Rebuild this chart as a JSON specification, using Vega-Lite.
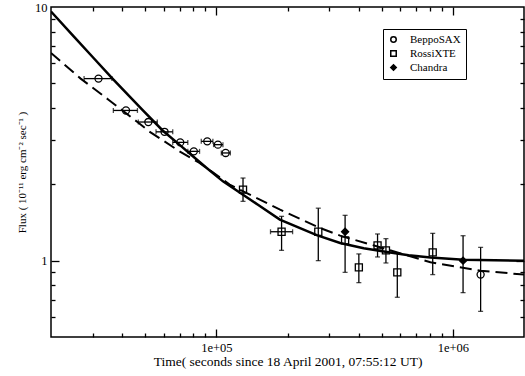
{
  "$schema": "https://vega.github.io/schema/vega-lite/v6.json",
  "width": 473,
  "height": 330,
  "autosize": "none",
  "padding": {"left": 51, "top": 7, "right": 1, "bottom": 39},
  "background": "white",
  "config": {
    "font": "Liberation Serif",
    "view": {"stroke": "black", "strokeWidth": 1.5},
    "axis": {
      "domain": false,
      "grid": false,
      "tickColor": "black",
      "tickWidth": 1.3,
      "labelColor": "black",
      "labelFont": "Liberation Serif",
      "labelFontSize": 12.5,
      "labelOverlap": false,
      "labelFlush": false,
      "labelBound": false,
      "titleColor": "black",
      "titleFont": "Liberation Serif",
      "titleFontSize": 12,
      "titleFontWeight": "normal"
    }
  },
  "datasets": {
    "solid": [
      {"t": 20000, "f": 9.6},
      {"t": 25000, "f": 7.64},
      {"t": 30000, "f": 6.35},
      {"t": 36400, "f": 5.22},
      {"t": 48600, "f": 3.94},
      {"t": 59300, "f": 3.26},
      {"t": 70000, "f": 2.86},
      {"t": 79600, "f": 2.58},
      {"t": 90000, "f": 2.34},
      {"t": 106700, "f": 2.054},
      {"t": 129700, "f": 1.82},
      {"t": 150000, "f": 1.66},
      {"t": 185700, "f": 1.451},
      {"t": 265800, "f": 1.26},
      {"t": 333800, "f": 1.174},
      {"t": 420000, "f": 1.12},
      {"t": 526700, "f": 1.082},
      {"t": 650000, "f": 1.05},
      {"t": 804400, "f": 1.03},
      {"t": 1110000, "f": 1.009},
      {"t": 1500000, "f": 1.004},
      {"t": 2000000, "f": 1.0}
    ],
    "dashed": [
      {"t": 20000, "f": 6.59},
      {"t": 26700, "f": 5.22},
      {"t": 35000, "f": 4.31},
      {"t": 46400, "f": 3.52},
      {"t": 52100, "f": 3.23},
      {"t": 69800, "f": 2.7},
      {"t": 84900, "f": 2.43},
      {"t": 100000, "f": 2.18},
      {"t": 113900, "f": 1.994},
      {"t": 125600, "f": 1.905},
      {"t": 186100, "f": 1.589},
      {"t": 274500, "f": 1.345},
      {"t": 333800, "f": 1.255},
      {"t": 476400, "f": 1.139},
      {"t": 650000, "f": 1.045},
      {"t": 804400, "f": 0.985},
      {"t": 1311000, "f": 0.913},
      {"t": 2000000, "f": 0.881}
    ],
    "pts": [
      {"inst": "BeppoSAX", "t": 31760, "f": 5.22, "tlo": 27600, "thi": 36200},
      {"inst": "BeppoSAX", "t": 41500, "f": 3.91, "tlo": 36700, "thi": 46400},
      {"inst": "BeppoSAX", "t": 51600, "f": 3.52, "tlo": 46800, "thi": 56300},
      {"inst": "BeppoSAX", "t": 60400, "f": 3.22, "tlo": 55600, "thi": 65430},
      {"inst": "BeppoSAX", "t": 70370, "f": 2.926, "tlo": 65430, "thi": 75770},
      {"inst": "BeppoSAX", "t": 80330, "f": 2.697, "tlo": 75770, "thi": 84950},
      {"inst": "BeppoSAX", "t": 91580, "f": 2.953, "tlo": 86380, "thi": 96730},
      {"inst": "BeppoSAX", "t": 101580, "f": 2.866, "tlo": 97390, "thi": 106660},
      {"inst": "BeppoSAX", "t": 109520, "f": 2.658, "tlo": 105000, "thi": 114660},
      {"inst": "BeppoSAX", "t": 1311000, "f": 0.881, "flo": 0.631, "fhi": 1.128},
      {"inst": "RossiXTE", "t": 129700, "f": 1.905, "flo": 1.713, "fhi": 2.117},
      {"inst": "RossiXTE", "t": 188800, "f": 1.3, "tlo": 169500, "thi": 210200, "flo": 1.098, "fhi": 1.495},
      {"inst": "RossiXTE", "t": 269900, "f": 1.3, "flo": 1.0, "fhi": 1.61},
      {"inst": "RossiXTE", "t": 350400, "f": 1.202, "flo": 0.899, "fhi": 1.509},
      {"inst": "RossiXTE", "t": 400600, "f": 0.941, "flo": 0.819, "fhi": 1.063},
      {"inst": "RossiXTE", "t": 480600, "f": 1.149, "flo": 1.034, "fhi": 1.274},
      {"inst": "RossiXTE", "t": 521500, "f": 1.098, "flo": 0.979, "fhi": 1.221},
      {"inst": "RossiXTE", "t": 582500, "f": 0.899, "flo": 0.717, "fhi": 1.072},
      {"inst": "RossiXTE", "t": 822300, "f": 1.078, "flo": 0.881, "fhi": 1.281},
      {"inst": "Chandra", "t": 350400, "f": 1.3},
      {"inst": "Chandra", "t": 1105000, "f": 1.0, "flo": 0.748, "fhi": 1.254}
    ]
  },
  "resolve": {"axis": {"x": "independent", "y": "independent"}},
  "layer": [
    {
      "data": {"name": "solid"},
      "mark": {"type": "line", "stroke": "black", "strokeWidth": 2.5, "clip": true},
      "encoding": {
        "x": {
          "field": "t", "type": "quantitative",
          "scale": {"type": "log", "domain": [20000, 2000000], "nice": false},
          "axis": {
            "orient": "bottom",
            "values": [100000, 1000000],
            "ticks": false,
            "labelExpr": "datum.value == 100000 ? '1e+05' : '1e+06'",
            "labelPadding": 4,
            "title": "Time( seconds since 18 April 2001, 07:55:12 UT)",
            "titleFontSize": 13.5,
            "titlePadding": 1
          }
        },
        "y": {
          "field": "f", "type": "quantitative",
          "scale": {"type": "log", "domain": [0.5, 10], "nice": false},
          "axis": {
            "orient": "left",
            "values": [1, 10],
            "ticks": false,
            "labelAlign": "right",
            "labelBaseline": "middle",
            "labelFlush": false,
            "labelExpr": "datum.value < 5 ? '1' : '10'",
            "labelPadding": 4,
            "title": "Flux ( 10⁻¹¹ erg cm⁻² sec⁻¹ )",
            "titleFontSize": 11,
            "titlePadding": 7
          }
        }
      }
    },
    {
      "data": {"name": "dashed"},
      "mark": {"type": "line", "stroke": "black", "strokeWidth": 2, "strokeDash": [12, 6], "clip": true},
      "encoding": {
        "x": {
          "field": "t", "type": "quantitative",
          "axis": {
            "orient": "top",
            "offset": -330,
            "values": [30000, 40000, 50000, 60000, 70000, 80000, 90000, 100000, 200000, 300000, 400000, 500000, 600000, 700000, 800000, 900000, 1000000],
            "tickSize": {"condition": {"test": "datum.value == 100000 || datum.value == 1000000", "value": 8}, "value": 4},
            "labels": false,
            "title": null
          }
        },
        "y": {
          "field": "f", "type": "quantitative",
          "axis": {
            "orient": "right",
            "offset": -473,
            "values": [0.6, 0.7, 0.8, 0.9, 1, 2, 3, 4, 5, 6, 7, 8, 9],
            "tickSize": {"condition": {"test": "datum.value == 1", "value": 8}, "value": 4},
            "labels": false,
            "title": null
          }
        }
      }
    },
    {
      "data": {"name": "pts"},
      "mark": {"type": "point", "strokeWidth": 1.3, "size": 50, "opacity": 1},
      "encoding": {
        "x": {
          "field": "t", "type": "quantitative",
          "axis": {
            "orient": "bottom",
            "offset": -330,
            "values": [30000, 40000, 50000, 60000, 70000, 80000, 90000, 100000, 200000, 300000, 400000, 500000, 600000, 700000, 800000, 900000, 1000000],
            "tickSize": {"condition": {"test": "datum.value == 100000 || datum.value == 1000000", "value": 8}, "value": 4},
            "labels": false,
            "title": null
          }
        },
        "y": {
          "field": "f", "type": "quantitative",
          "axis": {
            "orient": "left",
            "offset": -473,
            "values": [0.6, 0.7, 0.8, 0.9, 1, 2, 3, 4, 5, 6, 7, 8, 9],
            "tickSize": {"condition": {"test": "datum.value == 1", "value": 8}, "value": 4},
            "labels": false,
            "title": null
          }
        },
        "shape": {
          "field": "inst", "type": "nominal",
          "scale": {"domain": ["BeppoSAX", "RossiXTE", "Chandra"], "range": ["circle", "square", "diamond"]},
          "legend": {
            "title": null, "orient": "none", "legendX": 332, "legendY": 22,
            "strokeColor": "black", "fillColor": "white", "padding": 5,
            "labelFont": "Liberation Serif", "labelFontSize": 11, "labelColor": "black",
            "labelOffset": 11, "rowPadding": 1, "symbolSize": 30, "symbolStrokeWidth": 1.5
          }
        },
        "fill": {
          "field": "inst", "type": "nominal",
          "scale": {"domain": ["BeppoSAX", "RossiXTE", "Chandra"], "range": ["transparent", "transparent", "black"]},
          "legend": {
            "title": null, "orient": "none", "legendX": 332, "legendY": 22,
            "strokeColor": "black", "fillColor": "white", "padding": 5,
            "labelFont": "Liberation Serif", "labelFontSize": 11, "labelColor": "black",
            "labelOffset": 11, "rowPadding": 1, "symbolSize": 30, "symbolStrokeWidth": 1.5
          }
        },
        "stroke": {
          "field": "inst", "type": "nominal",
          "scale": {"domain": ["BeppoSAX", "RossiXTE", "Chandra"], "range": ["black", "black", "black"]},
          "legend": {
            "title": null, "orient": "none", "legendX": 332, "legendY": 22,
            "strokeColor": "black", "fillColor": "white", "padding": 5,
            "labelFont": "Liberation Serif", "labelFontSize": 11, "labelColor": "black",
            "labelOffset": 11, "rowPadding": 1, "symbolSize": 30, "symbolStrokeWidth": 1.5
          }
        }
      }
    },
    {
      "data": {"name": "pts"},
      "transform": [{"filter": "datum.flo != null"}],
      "mark": {"type": "rule", "stroke": "black", "strokeWidth": 1.3},
      "encoding": {
        "x": {"field": "t", "type": "quantitative", "axis": null},
        "y": {"field": "flo", "type": "quantitative", "axis": null},
        "y2": {"field": "fhi"}
      }
    },
    {
      "data": {"name": "pts"},
      "transform": [{"filter": "datum.flo != null"}],
      "mark": {"type": "tick", "orient": "horizontal", "color": "black", "size": 5, "thickness": 1.3},
      "encoding": {
        "x": {"field": "t", "type": "quantitative", "axis": null},
        "y": {"field": "flo", "type": "quantitative", "axis": null}
      }
    },
    {
      "data": {"name": "pts"},
      "transform": [{"filter": "datum.flo != null"}],
      "mark": {"type": "tick", "orient": "horizontal", "color": "black", "size": 5, "thickness": 1.3},
      "encoding": {
        "x": {"field": "t", "type": "quantitative", "axis": null},
        "y": {"field": "fhi", "type": "quantitative", "axis": null}
      }
    },
    {
      "data": {"name": "pts"},
      "transform": [{"filter": "datum.tlo != null"}],
      "mark": {"type": "rule", "stroke": "black", "strokeWidth": 1.3},
      "encoding": {
        "x": {"field": "tlo", "type": "quantitative", "axis": null},
        "x2": {"field": "thi"},
        "y": {"field": "f", "type": "quantitative", "axis": null}
      }
    },
    {
      "data": {"name": "pts"},
      "transform": [{"filter": "datum.tlo != null"}],
      "mark": {"type": "tick", "orient": "vertical", "color": "black", "size": 5, "thickness": 1.3},
      "encoding": {
        "x": {"field": "tlo", "type": "quantitative", "axis": null},
        "y": {"field": "f", "type": "quantitative", "axis": null}
      }
    },
    {
      "data": {"name": "pts"},
      "transform": [{"filter": "datum.tlo != null"}],
      "mark": {"type": "tick", "orient": "vertical", "color": "black", "size": 5, "thickness": 1.3},
      "encoding": {
        "x": {"field": "thi", "type": "quantitative", "axis": null},
        "y": {"field": "f", "type": "quantitative", "axis": null}
      }
    }
  ]
}
